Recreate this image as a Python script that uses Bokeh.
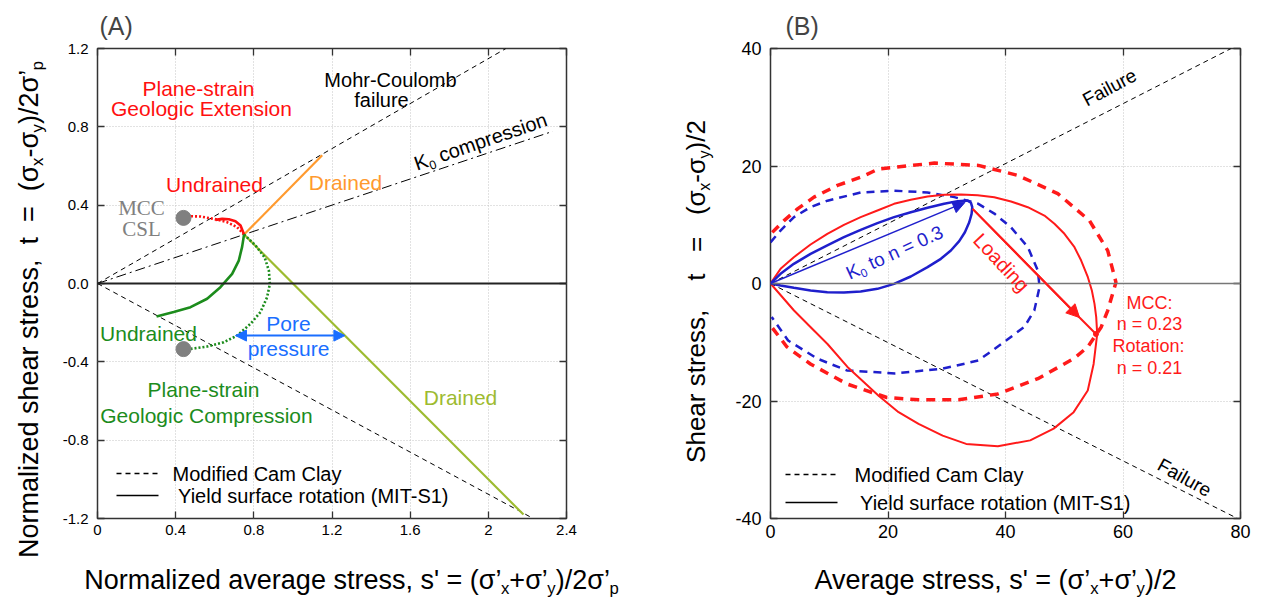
import math
from bokeh.plotting import figure
from bokeh.layouts import row, column
from bokeh.models import (Label, Arrow, NormalHead, Range1d, FixedTicker, LinearAxis, Span,
                          CustomJSTickFormatter)
from bokeh.embed import file_html
from bokeh.resources import INLINE

# ---------------- Panel A data (normalized) ----------------
xA_ticks = [0, 0.4, 0.8, 1.2, 1.6, 2.0, 2.4]
xA_labels = ["0", "0.4", "0.8", "1.2", "1.6", "2", "2.4"]
yA_ticks = [-1.2, -0.8, -0.4, 0.0, 0.4, 0.8, 1.2]
yA_labels = ["-1.2", "-0.8", "-0.4", "0.0", "0.4", "0.8", "1.2"]

mc_up_s = [0, 2.09]
mc_up_t = [0, 1.2]
mc_lo_s = [0, 2.23]
mc_lo_t = [0, -1.2]
k0_s = [0, 2.33]
k0_t = [0, 0.777]

ext_mcc_s = [0.75, 0.714, 0.663, 0.595, 0.527, 0.459]
ext_mcc_t = [0.25, 0.288, 0.313, 0.330, 0.342, 0.344]
ext_mit_s = [0.75, 0.732, 0.706, 0.672, 0.638, 0.604]
ext_mit_t = [0.25, 0.296, 0.318, 0.328, 0.330, 0.325]
comp_mit_s = [0.75, 0.740, 0.723, 0.689, 0.629, 0.561, 0.476, 0.390, 0.302]
comp_mit_t = [0.25, 0.187, 0.117, 0.049, -0.019, -0.078, -0.121, -0.146, -0.169]
comp_mcc_s = [0.75, 0.809, 0.855, 0.877, 0.882, 0.868, 0.834, 0.783, 0.714, 0.646, 0.561, 0.476]
comp_mcc_t = [0.25, 0.194, 0.134, 0.066, -0.002, -0.070, -0.146, -0.206, -0.266, -0.300, -0.322, -0.334]
drained_ext_s = [0.75, 1.15]
drained_ext_t = [0.25, 0.655]
drained_comp_s = [0.75, 2.18]
drained_comp_t = [0.25, -1.18]
csl_s = [0.44, 0.44]
csl_t = [0.335, -0.335]
pore_s = [0.706, 1.266]
pore_t = [-0.266, -0.266]

# ---------------- Panel B data ----------------
xB_ticks = [0, 20, 40, 60, 80]
xB_labels = ["0", "20", "40", "60", "80"]
yB_ticks = [-40, -20, 0, 20, 40]
yB_labels = ["-40", "-20", "0", "20", "40"]

fail_up_s = [0, 78.4]
fail_up_t = [0, 40]
fail_lo_s = [0, 79.5]
fail_lo_t = [0, -40]

blue_mit_s = [0, 1.71, 3.97, 6.82, 9.67, 12.50, 15.35, 18.20, 21.03, 23.88, 26.73, 29.56, 31.85, 33.55,
              34.12, 34.34, 34.23, 33.83, 33.09, 32.12, 30.70, 29.00, 26.73, 23.88, 21.03, 18.20, 15.35,
              12.50, 9.67, 6.82, 3.97, 1.71, 0]
blue_mit_t = [0, 1.65, 3.35, 5.05, 6.47, 7.89, 9.13, 10.27, 11.29, 12.14, 12.88, 13.56, 14.02, 14.13,
              13.73, 12.99, 11.86, 10.43, 8.73, 7.20, 5.62, 4.20, 2.78, 1.19, -0.06, -0.91, -1.36,
              -1.53, -1.48, -1.19, -0.74, -0.34, 0]
blue_mcc_s = [0, 1.7, 4.0, 6.8, 9.7, 15.4, 21.0, 26.7, 31.3, 35.3, 38.1, 40.9, 43.8, 45.5, 45.8, 44.9, 43.2,
              40.1, 35.4, 29.3, 21.2, 13.0, 8.0, 3.0, 0.2]
blue_mcc_t = [7.0, 9.0, 11.3, 13.0, 14.1, 15.5, 15.8, 15.5, 14.7, 13.6, 11.9, 9.6, 6.2, 2.2, -0.6, -4.6, -7.4,
              -9.7, -13.1, -14.5, -15.3, -14.8, -12.8, -9.7, -5.7]
red_mcc_s = [0.3, 2.3, 4.6, 7.4, 11.4, 15.4, 18.4, 27.9, 35.4, 42.1, 48.9, 54.3, 57.4, 58.8, 57.4, 56.3, 54.0,
             51.6, 45.5, 38.7, 32.0, 25.2, 19.8, 13.0, 6.8, 2.8, 0.2]
red_mcc_t = [8.7, 10.7, 12.7, 14.7, 16.7, 18.1, 19.5, 20.5, 20.1, 18.4, 15.3, 10.7, 5.6, 0.2, -4.6, -7.4, -10.8,
             -12.8, -16.2, -18.8, -19.8, -19.8, -19.4, -17.1, -13.7, -10.8, -7.4]
red_mit_s = [0, 1.71, 3.97, 6.82, 9.67, 12.50, 15.35, 18.20, 21.03, 23.88, 26.73, 29.56, 32.41, 35.26, 38.09,
             40.94, 43.79, 46.62, 48.33, 50.03, 51.74, 52.88, 54.02, 54.70, 55.15, 55.44, 55.61, 55.0, 54.0,
             51.6, 48.2, 44.2, 38.7, 33.3, 29.3, 25.2, 21.8, 18.4, 13.1, 9.7, 6.8, 4.0, 0]
red_mit_t = [0, 2.50, 4.48, 6.64, 8.46, 9.99, 11.29, 12.43, 13.56, 14.24, 14.81, 15.10, 15.15, 15.03, 14.69,
             13.96, 12.99, 11.57, 10.16, 8.46, 6.18, 3.91, 1.07, -1.19, -3.46, -5.73, -8.57, -13.7, -18.2,
             -21.9, -24.7, -26.7, -27.7, -27.3, -25.9, -23.9, -21.9, -19.1, -14.2, -10.3, -7.4, -4.6, 0]
k0_arrow_s = [0, 33.1]
k0_arrow_t = [0, 13.8]
load_s = [34.4, 52.6, 55.4]
load_t = [12.7, -5.8, -8.6]

legend_labels = ["Modified Cam Clay", "\u00a0Yield surface rotation (MIT-S1)"]

# ---------------- helpers ----------------
AW = {' ': 278, '\u00a0': 278, '!': 278, "'": 191, '(': 333, ')': 333, '+': 584, ',': 278, '-': 333,
      '.': 278, '/': 278, ':': 278, '=': 584, 'A': 667, 'B': 667, 'C': 722, 'D': 722, 'E': 667, 'F': 611,
      'G': 778, 'H': 722, 'I': 278, 'K': 667, 'L': 556, 'M': 833, 'N': 722, 'O': 778, 'P': 667, 'R': 722,
      'S': 667, 'T': 611, 'Y': 667, 'a': 556, 'b': 556, 'c': 500, 'd': 556, 'e': 556, 'f': 278, 'g': 556,
      'h': 556, 'i': 222, 'j': 222, 'k': 500, 'l': 222, 'm': 833, 'n': 556, 'o': 556, 'p': 556, 'r': 333,
      's': 500, 't': 278, 'u': 556, 'v': 500, 'w': 722, 'x': 500, 'y': 500, 'z': 500, 'σ': 600, '’': 222}
for d in "0123456789":
    AW[d] = 556

FONT = "Liberation Sans"
NB = "\u00a0"


def tw(s, size):
    return sum(AW.get(c, 556) for c in s) * size / 1000.0


def rich(p, pieces, sx, sy, size, angle=0.0, color="black", font=FONT, sub_scale=0.62):
    a = math.radians(angle)
    ux, uy = math.cos(a), math.sin(a)
    nx, ny = math.sin(a), -math.cos(a)
    items = []
    total = 0.0
    for t, kind in pieces:
        t = t.replace(" ", NB)
        sz = size * sub_scale if kind == "sub" else size
        items.append((t, kind, sz, total))
        total += tw(t, sz)
    for t, kind, sz, off in items:
        dd = off - total / 2.0
        drop = size * 0.32 if kind == "sub" else 0.0
        x = sx + dd * ux + drop * nx
        y = sy + dd * uy + drop * ny
        p.add_layout(Label(x=x, y=y, x_units="screen", y_units="screen", text=t, angle=a,
                           text_font_size=f"{sz:.1f}px", text_color=color, text_font=font,
                           text_align="left", text_baseline="middle"))


def txt(p, s, sx, sy, size, color="black", angle=0.0, font=FONT, align="center"):
    p.add_layout(Label(x=sx, y=sy, x_units="screen", y_units="screen", text=s,
                       angle=math.radians(angle), text_font_size=f"{size}px", text_color=color,
                       text_font=font, text_align=align, text_baseline="middle"))


def fmt(ticks, labels):
    return CustomJSTickFormatter(args=dict(t=ticks, l=labels), code="""
        let b = 0;
        for (let i = 0; i < t.length; i++) { if (Math.abs(t[i] - tick) < Math.abs(t[b] - tick)) b = i; }
        return l[b];""")


def style(p, xt, xl, yt, yl, fs):
    p.xaxis.ticker = FixedTicker(ticks=xt)
    p.yaxis.ticker = FixedTicker(ticks=yt)
    p.xaxis.formatter = fmt(xt, xl)
    p.yaxis.formatter = fmt(yt, yl)
    for ax in p.xaxis + p.yaxis:
        ax.major_tick_in = 7
        ax.major_tick_out = 0
        ax.minor_tick_line_color = None
        ax.axis_line_color = None
        ax.major_tick_line_color = "#333333"
        ax.major_tick_line_width = 1.3
        ax.major_label_text_font = FONT
        ax.major_label_text_font_size = fs
        ax.major_label_text_color = "black"
    p.xaxis.major_label_standoff = 6
    p.yaxis.major_label_standoff = 9
    for side, tk in (("above", xt), ("right", yt)):
        ax = LinearAxis(ticker=FixedTicker(ticks=tk), major_tick_in=7, major_tick_out=0,
                        minor_tick_line_color=None, axis_line_color=None,
                        formatter=CustomJSTickFormatter(code="return ''"),
                        major_tick_line_color="#333333", major_tick_line_width=1.3,
                        major_label_text_font_size="8px", major_label_standoff=0)
        p.add_layout(ax, side)
    p.xgrid.grid_line_color = "#c4c4c4"
    p.ygrid.grid_line_color = "#c4c4c4"
    p.xgrid.grid_line_dash = "1 2"
    p.ygrid.grid_line_dash = "1 2"
    p.outline_line_color = "#333333"
    p.outline_line_width = 1.5
    p.background_fill_color = "white"
    p.title.text_font = FONT
    p.title.text_font_style = "normal"
    p.title.text_font_size = "25px"
    p.title.align = "left"
    p.title.standoff = 18


def legend(p, x0, glen, rows_y, text_x, fs):
    dashes = ["5 4", "solid"]
    for yy, lab, dash in zip(rows_y, legend_labels, dashes):
        p.add_layout(Arrow(x_start=x0, y_start=yy, x_end=x0 + glen, y_end=yy,
                           start_units="screen", end_units="screen", start=None, end=None,
                           line_color="black", line_width=1.4, line_dash=dash))
        txt(p, lab, text_x, yy, fs, align="left")


def blank(w, h):
    f = figure(width=w, height=h, x_range=Range1d(0, w), y_range=Range1d(0, h),
               x_axis_type=None, y_axis_type=None, output_backend="svg", toolbar_location=None,
               min_border=0, outline_line_color=None)
    f.grid.visible = False
    return f


# ---------------- Panel A ----------------
RED = "#ff1010"
GREEN = "#1c8c1c"
ORANGE = "#ff9a2e"
YGREEN = "#9dbb30"
BLUEA = "#1a6eff"
GRAY = "#808080"

pA = figure(width=590, height=548, x_range=Range1d(0, 2.4), y_range=Range1d(-1.2, 1.2),
            output_backend="svg", toolbar_location=None, title="(A)",
            min_border_left=39, min_border_right=82, min_border_top=48, min_border_bottom=30)
style(pA, xA_ticks, xA_labels, yA_ticks, yA_labels, "15px")
pA.title.offset = 2

pA.add_layout(Span(location=0, dimension="width", line_color="#222222", line_width=2))
pA.line(mc_up_s, mc_up_t, line_color="black", line_dash="5 4", line_width=1)
pA.line(mc_lo_s, mc_lo_t, line_color="black", line_dash="5 4", line_width=1)
pA.line(k0_s, k0_t, line_color="black", line_dash="10 4 2 4", line_width=1)

pA.line(drained_ext_s, drained_ext_t, line_color=ORANGE, line_width=2.2)
pA.line(drained_comp_s, drained_comp_t, line_color=YGREEN, line_width=2.2)
pA.line(ext_mcc_s, ext_mcc_t, line_color=RED, line_width=2.6, line_dash="2 2")
pA.line(ext_mit_s, ext_mit_t, line_color=RED, line_width=2.6)
pA.line(comp_mcc_s, comp_mcc_t, line_color=GREEN, line_width=2.6, line_dash="2 2")
pA.line(comp_mit_s, comp_mit_t, line_color=GREEN, line_width=2.6)
pA.scatter(csl_s, csl_t, size=15, color=GRAY)
pA.add_layout(Arrow(start=NormalHead(size=11, fill_color=BLUEA, line_color=BLUEA),
                    end=NormalHead(size=11, fill_color=BLUEA, line_color=BLUEA),
                    x_start=pore_s[0], y_start=pore_t[0], x_end=pore_s[1], y_end=pore_t[1],
                    line_color=BLUEA, line_width=2))

legend(pA, 19, 42, [45, 23], 75, 20)

txt(pA, "Plane-strain", 101, 430, 21, RED)
txt(pA, "Geologic Extension", 104, 410, 21, RED)
txt(pA, "Mohr-Coulomb", 293, 439, 20, "black")
txt(pA, "failure", 284, 419, 20, "black")
rich(pA, [("K", "n"), ("0", "sub"), (" compression", "n")], 383, 377, 20, angle=19)
txt(pA, "Undrained", 117, 334, 21, RED)
txt(pA, "Drained", 248, 336, 21, ORANGE)
txt(pA, "MCC", 44, 311, 21, GRAY, font="Liberation Serif")
txt(pA, "CSL", 44, 290, 21, GRAY, font="Liberation Serif")
txt(pA, "Undrained", 51, 185, 21, GREEN)
txt(pA, "Pore", 191, 195, 21, BLUEA)
txt(pA, "pressure", 191, 170, 21, BLUEA)
txt(pA, "Plane-strain", 106, 129, 21, GREEN)
txt(pA, "Geologic Compression", 109, 103, 21, GREEN)
txt(pA, "Drained", 363, 121, 21, YGREEN)

ylabA = blank(58, 604)
rich(ylabA, [("Normalized shear stress,  t  =  (σ", "n"), ("x", "sub"), ("-σ", "n"), ("y", "sub"),
             (")/2σ’", "n"), ("p", "sub")], 28, 295, 27, angle=90)
xlabA = blank(590, 56)
rich(xlabA, [("Normalized average stress, s' = (σ’", "n"), ("x", "sub"), ("+σ’", "n"), ("y", "sub"),
             (")/2σ’", "n"), ("p", "sub")], 293, 25, 27)

# ---------------- Panel B ----------------
REDB = "#ff1a1a"
BLUEB = "#1f1fcc"

pB = figure(width=533, height=548, x_range=Range1d(0, 80), y_range=Range1d(-40, 40),
            output_backend="svg", toolbar_location=None, title="(B)",
            min_border_left=50, min_border_right=13, min_border_top=48, min_border_bottom=30)
style(pB, xB_ticks, xB_labels, yB_ticks, yB_labels, "18px")
pB.title.offset = 15

pB.add_layout(Span(location=0, dimension="width", line_color="#777777", line_width=1.5))
pB.line(fail_up_s, fail_up_t, line_color="black", line_dash="5 4", line_width=1)
pB.line(fail_lo_s, fail_lo_t, line_color="black", line_dash="5 4", line_width=1)

pB.line(red_mcc_s, red_mcc_t, line_color=REDB, line_width=3.5, line_dash="9 7")
pB.line(blue_mcc_s, blue_mcc_t, line_color=BLUEB, line_width=2.5, line_dash="8 6")
pB.line(red_mit_s, red_mit_t, line_color=REDB, line_width=2)
pB.line(blue_mit_s, blue_mit_t, line_color=BLUEB, line_width=2.5)
pB.add_layout(Arrow(end=NormalHead(size=12, fill_color=BLUEB, line_color=BLUEB),
                    x_start=k0_arrow_s[0], y_start=k0_arrow_t[0], x_end=k0_arrow_s[1], y_end=k0_arrow_t[1],
                    line_color=BLUEB, line_width=1.5))
pB.line(load_s, load_t, line_color=REDB, line_width=2)
pB.add_layout(Arrow(end=NormalHead(size=13, fill_color=REDB, line_color=REDB),
                    x_start=load_s[0], y_start=load_t[0], x_end=load_s[1], y_end=load_t[1],
                    line_color=REDB, line_width=2))
pB.scatter([load_s[-1]], [load_t[-1]], size=5, color=REDB)

legend(pB, 15, 52, [44, 16], 84, 20)

txt(pB, "Failure", 339, 431, 19, angle=28)
txt(pB, "Failure", 414, 41, 19, angle=-29)
rich(pB, [("K", "n"), ("0", "sub"), (" to n = 0.3", "n")], 124, 266, 19, angle=24.5, color=BLUEB)
txt(pB, "Loading", 231, 256, 20, REDB, angle=-47)
txt(pB, "MCC:", 379, 216, 18, REDB)
txt(pB, "n = 0.23", 379, 195, 18, REDB)
txt(pB, "Rotation:", 378, 173, 18, REDB)
txt(pB, "n = 0.21", 379, 151, 18, REDB)

ylabB = blank(72, 604)
rich(ylabB, [("Shear stress,    t   =   (σ", "n"), ("x", "sub"), ("-σ", "n"), ("y", "sub"), (")/2", "n")],
     47, 313, 26, angle=90)
xlabB = blank(533, 56)
rich(xlabB, [("Average stress, s' = (σ’", "n"), ("x", "sub"), ("+σ’", "n"), ("y", "sub"), (")/2", "n")],
     275, 25, 27)

layout = row(column(ylabA), column(pA, row(xlabA)), column(ylabB), column(pB, row(xlabB)))
open("out.html", "w").write(file_html(layout, INLINE))
